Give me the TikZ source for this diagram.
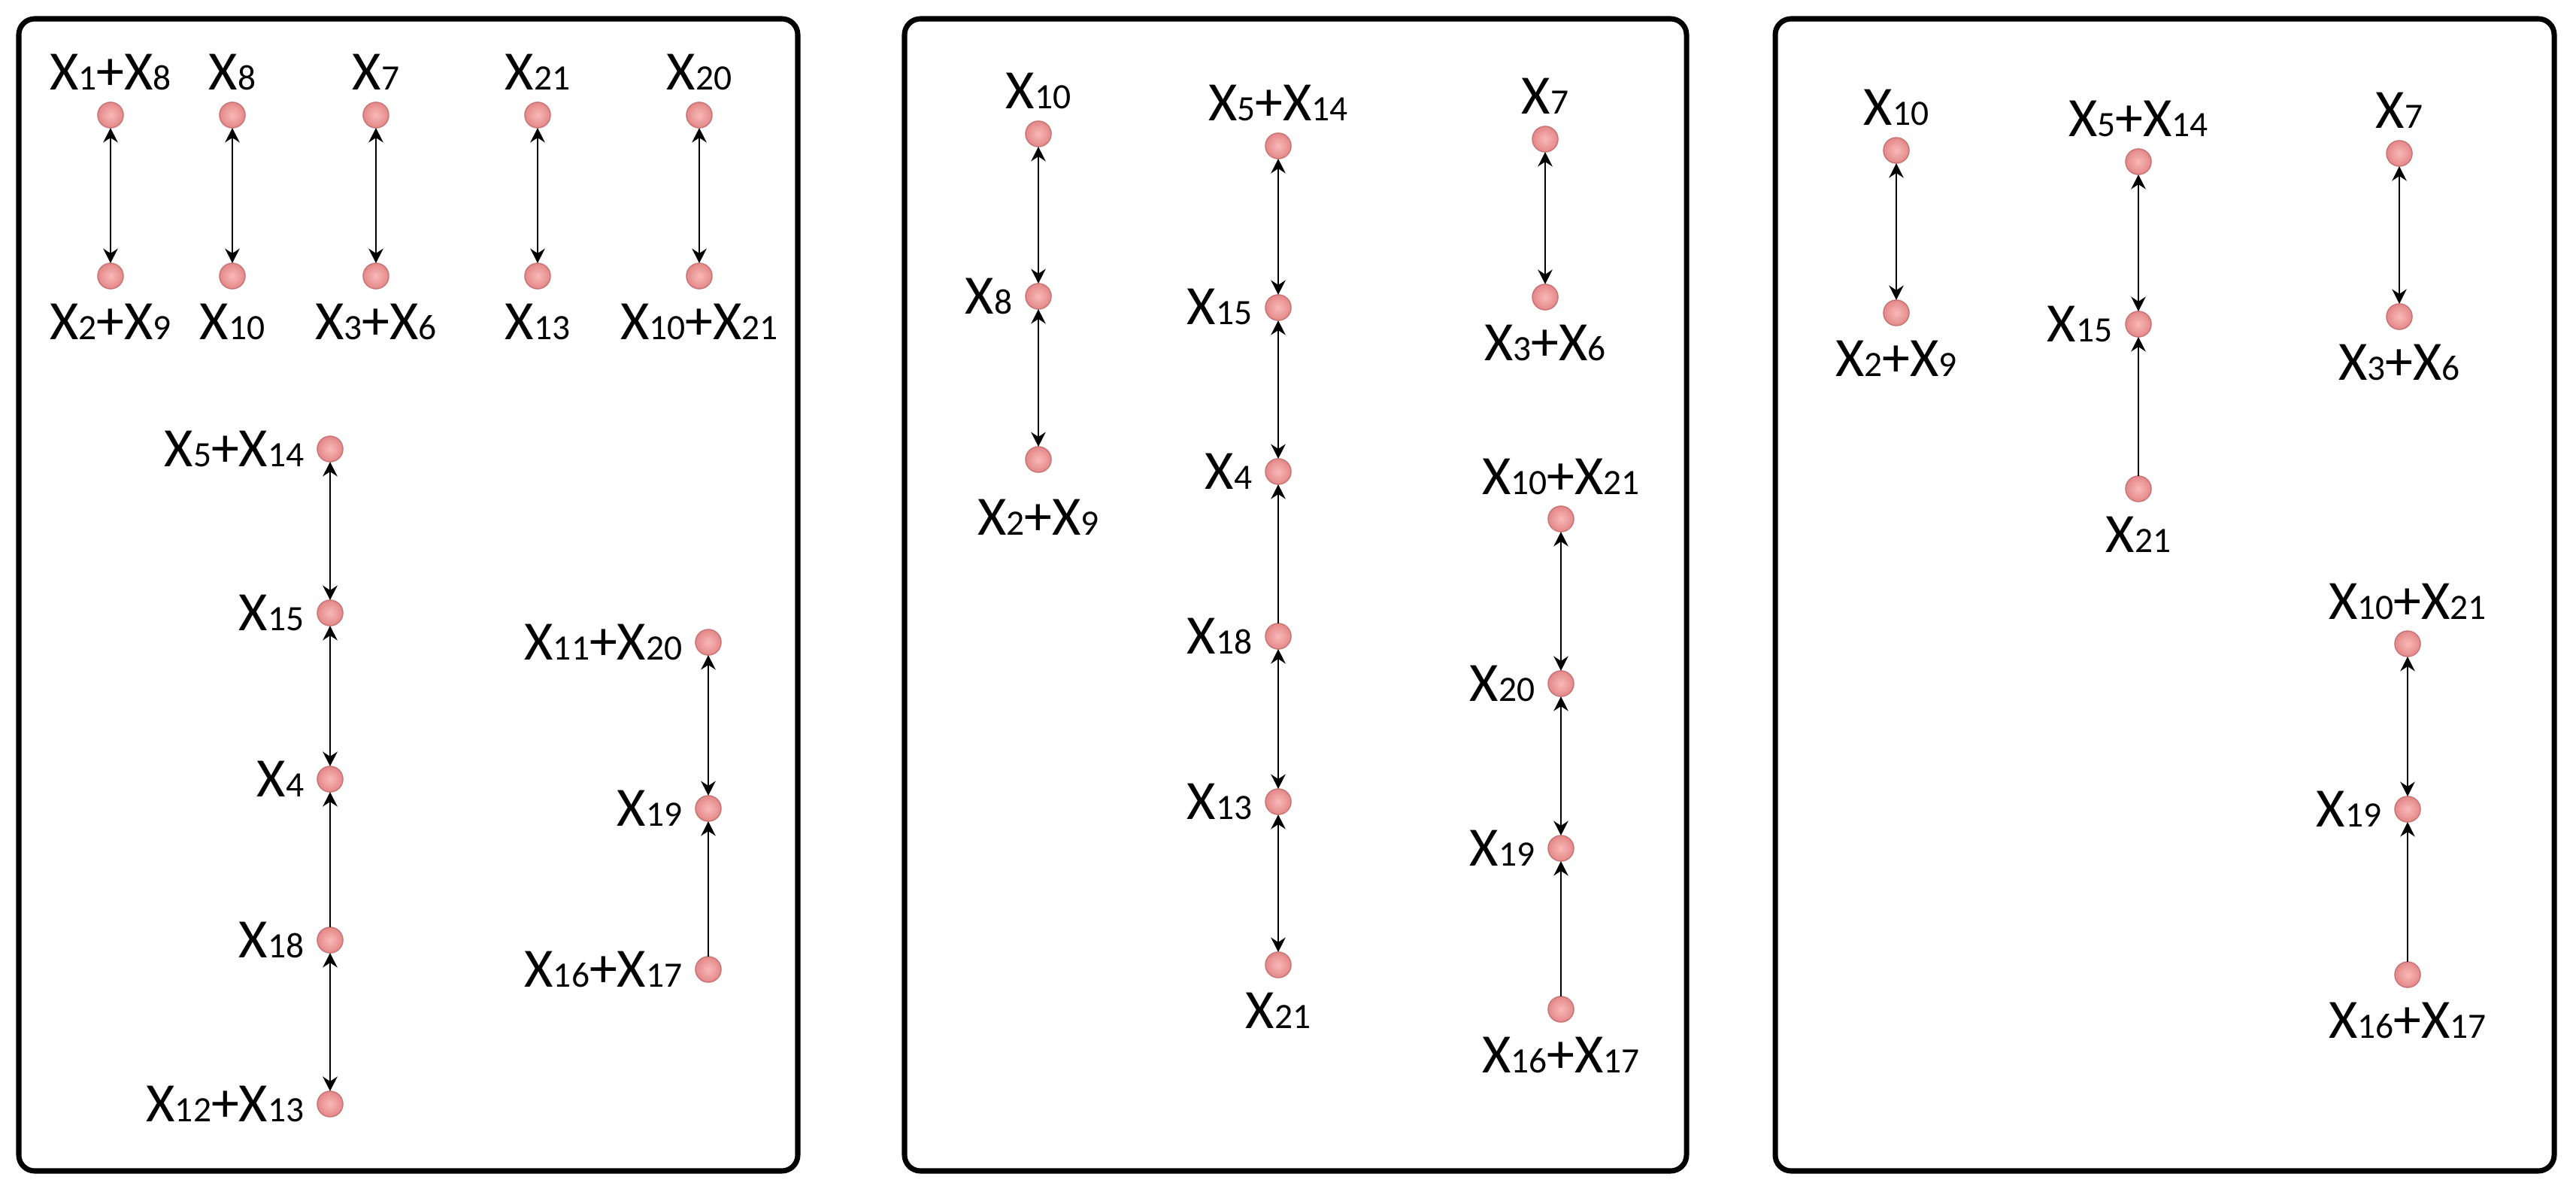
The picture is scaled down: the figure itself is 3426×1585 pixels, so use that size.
\documentclass[tikz,border=0pt]{standalone}
\usepackage{fontspec}
\setmainfont{Carlito}
\usetikzlibrary{arrows.meta,calc}
\definecolor{nodein}{RGB}{248,185,185}
\definecolor{nodeout}{RGB}{228,135,135}
\definecolor{nodeedge}{RGB}{200,115,115}
\newcommand{\xv}[1]{X{\fontsize{13.5}{14}\selectfont #1}}
\tikzset{
  var/.style={circle, minimum size=9.7pt, inner sep=0pt, outer sep=0pt, draw=nodeedge, line width=0.4pt, inner color=nodein, outer color=nodeout},
  lab/.style={inner sep=0pt, font=\fontsize{21}{25}\selectfont},
  panel/.style={draw, line width=2pt, rounded corners=6pt},
  bi/.style={{Stealth[length=5.5pt,width=5.5pt]}-{Stealth[length=5.5pt,width=5.5pt]}, line width=0.7pt},
  uni/.style={-{Stealth[length=5.5pt,width=5.5pt]}, line width=0.7pt},
}
\newcommand{\lup}[2]{\node[lab,anchor=base] (#1l) at ($(#1)+(0,-33)$) {#2};}
\newcommand{\ldn}[2]{\node[lab,anchor=base] (#1l) at ($(#1)+(0,84)$) {#2};}
\newcommand{\llf}[2]{\node[lab,anchor=base east] (#1l) at ($(#1)+(-34,23)$) {#2};}
\begin{document}
\begin{tikzpicture}[x=0.01cm, y=-0.01cm]
\useasboundingbox (0,0) rectangle (3426,1585);
\fill[white] (0,0) rectangle (3426,1585);
% panels
\draw[panel] (25,25) rectangle (1061,1557);
\draw[panel] (1203,25) rectangle (2243,1557);
\draw[panel] (2361,25) rectangle (3397,1557);

% ---------- Panel 1 ----------
\node[var] (a1) at (147,153) {}; \lup{a1}{\xv{1}+\xv{8}}
\node[var] (a2) at (147,367) {}; \ldn{a2}{\xv{2}+\xv{9}}
\node[var] (b1) at (309,153) {}; \lup{b1}{\xv{8}}
\node[var] (b2) at (309,367) {}; \ldn{b2}{\xv{10}}
\node[var] (c1) at (500,153) {}; \lup{c1}{\xv{7}}
\node[var] (c2) at (500,367) {}; \ldn{c2}{\xv{3}+\xv{6}}
\node[var] (d1) at (715,153) {}; \lup{d1}{\xv{21}}
\node[var] (d2) at (715,367) {}; \ldn{d2}{\xv{13}}
\node[var] (e1) at (930,153) {}; \lup{e1}{\xv{20}}
\node[var] (e2) at (930,367) {}; \ldn{e2}{\xv{10}+\xv{21}}
\draw[bi] (a1) -- (a2);
\draw[bi] (b1) -- (b2);
\draw[bi] (c1) -- (c2);
\draw[bi] (d1) -- (d2);
\draw[bi] (e1) -- (e2);

\node[var] (f1) at (439,597) {}; \llf{f1}{\xv{5}+\xv{14}}
\node[var] (f2) at (439,815) {}; \llf{f2}{\xv{15}}
\node[var] (f3) at (439,1036) {}; \llf{f3}{\xv{4}}
\node[var] (f4) at (439,1250) {}; \llf{f4}{\xv{18}}
\node[var] (f5) at (439,1468) {}; \llf{f5}{\xv{12}+\xv{13}}
\draw[bi] (f1) -- (f2);
\draw[bi] (f2) -- (f3);
\draw[uni] (f4) -- (f3);
\draw[bi] (f4) -- (f5);

\node[var] (g1) at (942,854) {}; \llf{g1}{\xv{11}+\xv{20}}
\node[var] (g2) at (942,1075) {}; \llf{g2}{\xv{19}}
\node[var] (g3) at (942,1289) {}; \llf{g3}{\xv{16}+\xv{17}}
\draw[bi] (g1) -- (g2);
\draw[uni] (g3) -- (g2);

% ---------- Panel 2 ----------
\node[var] (h1) at (1381,178) {}; \lup{h1}{\xv{10}}
\node[var] (h2) at (1381,394) {}; \llf{h2}{\xv{8}}
\node[var] (h3) at (1381,611) {};
\node[lab,anchor=base] (h3l) at ($(h3)+(0,100)$) {\xv{2}+\xv{9}};
\draw[bi] (h1) -- (h2);
\draw[bi] (h2) -- (h3);

\node[var] (i1) at (1700,194) {}; \lup{i1}{\xv{5}+\xv{14}}
\node[var] (i2) at (1700,409) {}; \llf{i2}{\xv{15}}
\node[var] (i3) at (1700,627) {}; \llf{i3}{\xv{4}}
\node[var] (i4) at (1700,846) {}; \llf{i4}{\xv{18}}
\node[var] (i5) at (1700,1066) {}; \llf{i5}{\xv{13}}
\node[var] (i6) at (1700,1283) {}; \ldn{i6}{\xv{21}}
\draw[bi] (i1) -- (i2);
\draw[bi] (i2) -- (i3);
\draw[uni] (i4) -- (i3);
\draw[bi] (i4) -- (i5);
\draw[bi] (i5) -- (i6);

\node[var] (j1) at (2055,185) {}; \lup{j1}{\xv{7}}
\node[var] (j2) at (2055,395) {}; \ldn{j2}{\xv{3}+\xv{6}}
\draw[bi] (j1) -- (j2);

\node[var] (k1) at (2076,690) {}; \lup{k1}{\xv{10}+\xv{21}}
\node[var] (k2) at (2076,909) {}; \llf{k2}{\xv{20}}
\node[var] (k3) at (2076,1128) {}; \llf{k3}{\xv{19}}
\node[var] (k4) at (2076,1342) {}; \ldn{k4}{\xv{16}+\xv{17}}
\draw[bi] (k1) -- (k2);
\draw[bi] (k2) -- (k3);
\draw[uni] (k4) -- (k3);

% ---------- Panel 3 ----------
\node[var] (l1) at (2522,200) {}; \lup{l1}{\xv{10}}
\node[var] (l2) at (2522,416) {}; \ldn{l2}{\xv{2}+\xv{9}}
\draw[bi] (l1) -- (l2);

\node[var] (m1) at (2844,215) {}; \lup{m1}{\xv{5}+\xv{14}}
\node[var] (m2) at (2844,431) {}; \llf{m2}{\xv{15}}
\node[var] (m3) at (2844,650) {}; \ldn{m3}{\xv{21}}
\draw[bi] (m1) -- (m2);
\draw[uni] (m3) -- (m2);

\node[var] (n1) at (3191,204) {}; \lup{n1}{\xv{7}}
\node[var] (n2) at (3191,421) {}; \ldn{n2}{\xv{3}+\xv{6}}
\draw[bi] (n1) -- (n2);

\node[var] (o1) at (3202,856) {}; \lup{o1}{\xv{10}+\xv{21}}
\node[var] (o2) at (3202,1076) {}; \llf{o2}{\xv{19}}
\node[var] (o3) at (3202,1296) {}; \ldn{o3}{\xv{16}+\xv{17}}
\draw[bi] (o1) -- (o2);
\draw[uni] (o3) -- (o2);
\end{tikzpicture}
\end{document}
